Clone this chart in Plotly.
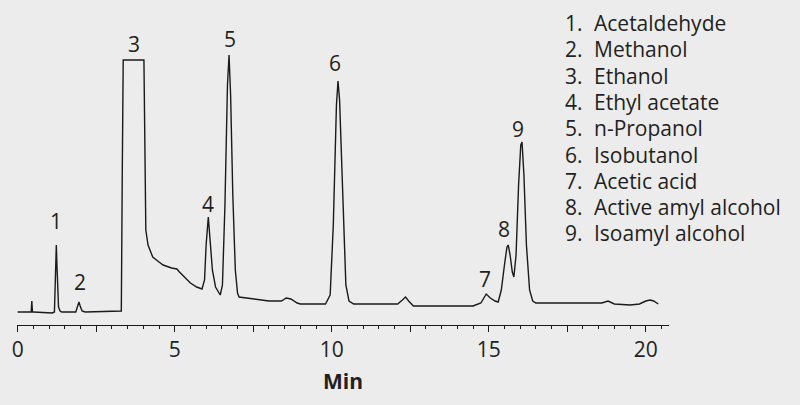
import plotly.graph_objects as go

# Chromatogram trace (time in min, detector signal in arbitrary units)
time_min = [0.0, 0.40, 0.43, 0.45, 0.47, 0.50, 1.10, 1.17, 1.20, 1.23, 1.25, 1.27, 1.30, 1.35, 1.40,
            1.85, 1.92, 1.95, 1.99, 2.05, 2.15, 3.27, 3.30, 3.33, 3.36, 4.02, 4.05, 4.08, 4.15, 4.30,
            4.50, 4.63, 4.90, 5.07, 5.15, 5.30, 5.50, 5.70, 5.87, 5.95, 6.00, 6.07, 6.13, 6.20, 6.30,
            6.45, 6.52, 6.60, 6.68, 6.73, 6.78, 6.85, 6.93, 7.00, 7.05, 7.30, 7.50, 8.00, 8.40, 8.55,
            8.70, 8.90, 9.00, 9.80, 9.95, 10.05, 10.15, 10.20, 10.25, 10.35, 10.45, 10.55, 10.70, 11.50,
            12.10, 12.25, 12.35, 12.45, 12.60, 13.00, 14.50, 14.75, 14.92, 15.05, 15.20, 15.30, 15.40,
            15.50, 15.58, 15.62, 15.68, 15.75, 15.80, 15.87, 15.95, 16.02, 16.06, 16.12, 16.20, 16.30,
            16.40, 16.50, 17.00, 18.60, 18.80, 18.95, 19.00, 19.50, 19.80, 20.00, 20.14, 20.25, 20.40]
signal = [13, 13, 13, 24, 13, 13, 12, 13, 40, 80, 60, 31, 18, 14, 13,
          13, 20, 23, 19, 14, 13, 14, 14, 150, 265, 265, 150, 95, 80, 68,
          63, 60, 57, 56, 53, 48, 42, 38, 36, 45, 80, 108, 85, 55, 38,
          30, 40, 120, 240, 270, 230, 130, 55, 32, 28, 27, 26, 24, 24, 27,
          26, 22, 21, 21, 30, 100, 220, 244, 225, 120, 40, 24, 21, 21,
          21, 25, 28, 24, 19, 19, 19, 22, 31, 27, 24, 23, 35,
          60, 78, 80, 70, 53, 48, 70, 140, 180, 183, 150, 80, 35,
          24, 22, 22, 22, 24, 22, 21, 20, 21, 24, 25, 24, 21]

# Peak labels
peak_labels = ["1", "2", "3", "4", "5", "6", "7", "8", "9"]
peak_time = [1.22, 1.98, 3.70, 6.06, 6.76, 10.12, 14.88, 15.49, 15.93]
peak_top = [80, 23, 265, 108, 270, 244, 31, 80, 183]
peak_shift = [8, 4, 0, -3, 0, 2, -1, 0, -3]

# Compound legend
compound_numbers = ["1.", "2.", "3.", "4.", "5.", "6.", "7.", "8.", "9."]
compound_names = ["Acetaldehyde", "Methanol", "Ethanol", "Ethyl acetate", "n-Propanol",
                  "Isobutanol", "Acetic acid", "Active amyl alcohol", "Isoamyl alcohol"]

# Axis ticks
tick_vals = [0, 2.5, 5, 7.5, 10, 12.5, 15, 17.5, 20]
tick_text = ["0", "", "5", "", "10", "", "15", "", "20"]

FONT = "Open Sans"
INK = "#231f20"
BG = "#ececec"
FS = 21
PLOT_H = 325.0
LINE_STEP = 26.3

fig = go.Figure()
fig.add_trace(go.Scatter(x=time_min, y=signal, mode="lines",
                         line=dict(color="#1a1a1a", width=1.4), hoverinfo="x+y"))

for lab, t, top, sh in zip(peak_labels, peak_time, peak_top, peak_shift):
    fig.add_annotation(x=t, y=top, text=lab, showarrow=False, xanchor="center",
                       yanchor="bottom", yshift=sh, font=dict(family=FONT, size=FS, color=INK))

for i, (num, name) in enumerate(zip(compound_numbers, compound_names)):
    ypos = 1 - (23 + i * LINE_STEP) / PLOT_H
    fig.add_annotation(xref="paper", yref="paper", x=0.837, y=ypos, xanchor="left", yanchor="middle",
                       text=num, showarrow=False, font=dict(family=FONT, size=FS, color=INK))
    fig.add_annotation(xref="paper", yref="paper", x=0.882, y=ypos, xanchor="left", yanchor="middle",
                       text=name, showarrow=False, font=dict(family=FONT, size=FS, color=INK))

fig.update_layout(
    width=800, height=405,
    paper_bgcolor=BG, plot_bgcolor=BG,
    margin=dict(l=17, r=131, t=0, b=80, autoexpand=False),
    showlegend=False,
    xaxis=dict(range=[-0.022, 20.74], showgrid=False, zeroline=False, automargin=False,
               showline=True, linecolor="#1a1a1a", linewidth=1.3,
               ticks="outside", ticklen=6, tickwidth=1.3, tickcolor="#1a1a1a",
               tickvals=tick_vals, ticktext=tick_text,
               tickfont=dict(family=FONT, size=FS, color=INK),
               minor=dict(dtick=0.5, ticks="outside", ticklen=3, tickwidth=1.2, tickcolor="#1a1a1a"),
               title=dict(text="<b>Min</b>", font=dict(family=FONT, size=FS, color=INK), standoff=11)),
    yaxis=dict(range=[0, 325], visible=False, automargin=False),
)

fig.write_html("out.html", config={"displayModeBar": False},
               post_script="document.body.style.margin='0';document.body.style.overflow='hidden';")
